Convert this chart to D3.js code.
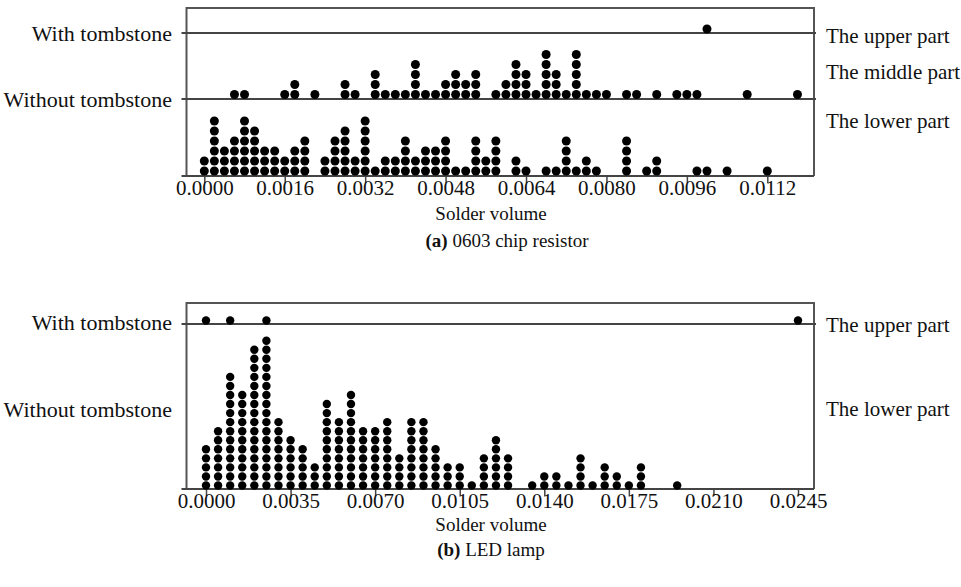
<!DOCTYPE html>
<html lang="en">
<head>
<meta charset="UTF-8">
<title>Solder volume dot plots</title>
<style>
  body { margin: 0; background: #fff; }
  text { font-family: "Liberation Serif", "Times New Roman", serif; fill: #111; }
</style>
</head>
<body>
<svg id="svg"></svg>
<script src="https://d3js.org/d3.v7.min.js"></script>
<script>
// (a) 0603 chip resistor -- [solder volume, number of stacked dots]
const resistorUpper = [[0.0100, 1]];
const resistorMiddle = [
  [0.0006, 1], [0.0008, 1], [0.0016, 1], [0.0018, 2], [0.0022, 1], [0.0028, 2],
  [0.0030, 1], [0.0034, 3], [0.0036, 1], [0.0038, 1], [0.0040, 1], [0.0042, 4],
  [0.0044, 1], [0.0046, 1], [0.0048, 2], [0.0050, 3], [0.0052, 2], [0.0054, 3],
  [0.0058, 1], [0.0060, 2], [0.0062, 4], [0.0064, 3], [0.0066, 1], [0.0068, 5],
  [0.0070, 3], [0.0072, 1], [0.0074, 5], [0.0076, 1], [0.0078, 1], [0.0080, 1],
  [0.0084, 1], [0.0086, 1], [0.0090, 1], [0.0094, 1], [0.0096, 1], [0.0098, 1],
  [0.0108, 1], [0.0118, 1]
];
const resistorLower = [
  [0.0000, 2], [0.0002, 6], [0.0004, 3], [0.0006, 4], [0.0008, 6], [0.0010, 5],
  [0.0012, 3], [0.0014, 3], [0.0016, 2], [0.0018, 3], [0.0020, 4], [0.0024, 2],
  [0.0026, 4], [0.0028, 5], [0.0030, 2], [0.0032, 6], [0.0034, 1], [0.0036, 2],
  [0.0038, 2], [0.0040, 4], [0.0042, 2], [0.0044, 3], [0.0046, 3], [0.0048, 4],
  [0.0050, 1], [0.0052, 1], [0.0054, 4], [0.0056, 2], [0.0058, 4], [0.0062, 2],
  [0.0064, 1], [0.0068, 1], [0.0070, 1], [0.0072, 4], [0.0074, 1], [0.0076, 2],
  [0.0078, 1], [0.0084, 4], [0.0088, 1], [0.0090, 2], [0.0098, 1], [0.0100, 1],
  [0.0104, 1], [0.0112, 1]
];
const resistorTicks = [0, 0.0016, 0.0032, 0.0048, 0.0064, 0.0080, 0.0096, 0.0112];

// (b) LED lamp
const ledUpper = [[0.0000, 1], [0.0010, 1], [0.0025, 1], [0.0245, 1]];
const ledLower = [
  [0.0000, 5], [0.0005, 7], [0.0010, 13], [0.0015, 11], [0.0020, 16], [0.0025, 17],
  [0.0030, 8], [0.0035, 6], [0.0040, 5], [0.0045, 3], [0.0050, 10], [0.0055, 8],
  [0.0060, 11], [0.0065, 7], [0.0070, 7], [0.0075, 8], [0.0080, 4], [0.0085, 8],
  [0.0090, 8], [0.0095, 5], [0.0100, 3], [0.0105, 3], [0.0110, 1], [0.0115, 4],
  [0.0120, 6], [0.0125, 4], [0.0135, 1], [0.0140, 2], [0.0145, 2], [0.0150, 1],
  [0.0155, 4], [0.0160, 1], [0.0165, 3], [0.0170, 2], [0.0175, 1], [0.0180, 3],
  [0.0195, 1]
];
const ledTicks = [0, 0.0035, 0.0070, 0.0105, 0.0140, 0.0175, 0.0210, 0.0245];

const width = 961, height = 587;
const svg = d3.select('#svg').attr('width', width).attr('height', height)
  .attr('viewBox', `0 0 ${width} ${height}`);

const panels = [
  {
    domain: [0, 0.0112], range: [204.3, 767.3],
    left: 186.5, right: 814, top: 8, axisY: 176,
    ticks: resistorTicks, r: 4.5, step: 10,
    lines: [33, 99],
    groups: [
      { data: resistorUpper, base: 29 },
      { data: resistorMiddle, base: 94.5 },
      { data: resistorLower, base: 171 }
    ],
    leftLabels: [['With tombstone', 33], ['Without tombstone', 99]],
    rightLabels: [['The upper part', 36], ['The middle part', 72], ['The lower part', 121]],
    xTitleY: 213, captionY: 240, captionX: 507, tag: '(a)', caption: ' 0603 chip resistor'
  },
  {
    domain: [0, 0.0245], range: [206, 798],
    left: 186.5, right: 814, top: 303, axisY: 489,
    ticks: ledTicks, r: 4.2, step: 9.05,
    lines: [324],
    groups: [
      { data: ledUpper, base: 320.5 },
      { data: ledLower, base: 485.5 }
    ],
    leftLabels: [['With tombstone', 322], ['Without tombstone', 409]],
    rightLabels: [['The upper part', 325], ['The lower part', 409]],
    xTitleY: 524, captionY: 549, captionX: 491, tag: '(b)', caption: ' LED lamp'
  }
];

function drawPanel(cfg) {
  const g = svg.append('g');
  const x = d3.scaleLinear().domain(cfg.domain).range(cfg.range);

  // frame (open at the bottom, the axis closes it)
  g.append('path')
    .attr('d', `M${cfg.left},${cfg.axisY}V${cfg.top}H${cfg.right}V${cfg.axisY}`)
    .attr('fill', 'none').attr('stroke', '#555').attr('stroke-width', 2);

  // group separator lines
  cfg.lines.forEach(yy => {
    g.append('line')
      .attr('x1', cfg.left - 5).attr('x2', cfg.right + 2)
      .attr('y1', yy).attr('y2', yy)
      .attr('stroke', '#444').attr('stroke-width', 2);
  });

  // bottom axis
  g.append('line')
    .attr('x1', cfg.left - 5).attr('x2', cfg.right)
    .attr('y1', cfg.axisY).attr('y2', cfg.axisY)
    .attr('stroke', '#444').attr('stroke-width', 2);
  const axis = g.append('g')
    .attr('transform', `translate(0,${cfg.axisY})`)
    .call(d3.axisBottom(x).tickValues(cfg.ticks).tickFormat(d3.format('.4f'))
      .tickSize(7).tickSizeOuter(0));
  axis.select('.domain').remove();
  axis.selectAll('.tick line').attr('stroke', '#444').attr('stroke-width', 1.5);
  axis.selectAll('.tick text')
    .attr('y', 12).attr('dy', null)
    .attr('dominant-baseline', 'central')
    .attr('font-size', 21).attr('font-family', null).attr('fill', '#111');

  // stacked dots
  cfg.groups.forEach(grp => {
    const level = d3.scaleLinear().domain([0, 1]).range([grp.base, grp.base - cfg.step]);
    const dots = grp.data.flatMap(([v, n]) => d3.range(n).map(i => ({ v, i })));
    g.append('g').selectAll('circle')
      .data(dots)
      .join('circle')
      .attr('cx', d => x(d.v))
      .attr('cy', d => level(d.i))
      .attr('r', cfg.r)
      .attr('fill', '#000');
  });

  // labels
  cfg.leftLabels.forEach(([t, yy]) => {
    g.append('text').attr('x', 172).attr('y', yy)
      .attr('text-anchor', 'end').attr('dominant-baseline', 'central')
      .attr('font-size', 22).text(t);
  });
  cfg.rightLabels.forEach(([t, yy]) => {
    g.append('text').attr('x', 826).attr('y', yy)
      .attr('dominant-baseline', 'central')
      .attr('font-size', 21).text(t);
  });

  g.append('text').attr('x', 491).attr('y', cfg.xTitleY)
    .attr('text-anchor', 'middle').attr('dominant-baseline', 'central')
    .attr('font-size', 19).text('Solder volume');

  const cap = g.append('text').attr('x', cfg.captionX).attr('y', cfg.captionY)
    .attr('text-anchor', 'middle').attr('dominant-baseline', 'central')
    .attr('font-size', 19);
  cap.append('tspan').attr('font-weight', 'bold').text(cfg.tag);
  cap.append('tspan').text(cfg.caption);
}

panels.forEach(drawPanel);
</script>
</body>
</html>
